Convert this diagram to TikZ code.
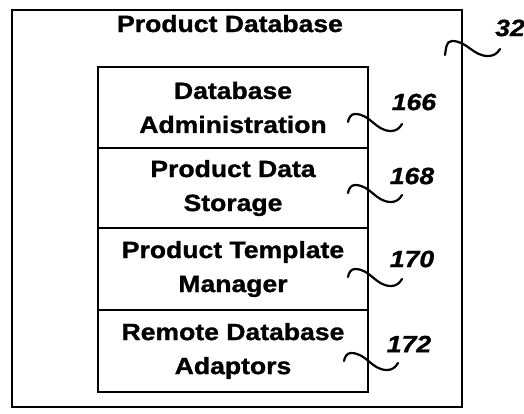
\documentclass[tikz,border=0pt]{standalone}
\usepackage{fontspec}
\setmainfont{Liberation Sans}[FakeStretch=1.13,BoldFeatures={FakeBold=1.2},BoldItalicFeatures={FakeBold=1.2}]
\begin{document}
\begin{tikzpicture}[x=1pt,y=-1pt,
  frame/.style={draw=black,line width=2pt},
  boxtxt/.style={font=\fontsize{23.5}{34}\selectfont\bfseries,align=center},
  partbox/.style={frame,minimum width=270pt,inner sep=0pt,boxtxt},
  reflabel/.style={font=\fontsize{23.5}{28}\selectfont\bfseries\itshape,inner sep=0pt},
  squig/.style={line width=2.2pt,line cap=round}]
\useasboundingbox (0,0) rectangle (524,413);
\node[frame,minimum width=450pt,minimum height=397pt,inner sep=0pt] (outer) at (237,208.5) {};
\node[boxtxt,anchor=base] (title) at (230,32) {Product Database};
\node[partbox,minimum height=81pt] (adm) at (233,107.5) {Database\\Administration};
\node[partbox,minimum height=80pt] (sto) at (233,188) {Product Data\\Storage};
\node[partbox,minimum height=82pt] (tpl) at (233,269) {Product Template\\Manager};
\node[partbox,minimum height=82pt] (rem) at (233,351) {Remote Database\\Adaptors};
\node[reflabel] (l32) at (510,28) {32};
\node[reflabel] (l166) at (414,102) {166};
\node[reflabel] (l168) at (412,176) {168};
\node[reflabel] (l170) at (412,259) {170};
\node[reflabel] (l172) at (409,344) {172};
\coordinate (s32) at (445,55);
\coordinate (s166) at (348,122);
\coordinate (s168) at (348,193);
\coordinate (s170) at (348,277);
\coordinate (s172) at (344,361);
\draw[squig] (s32) to[out=80,in=180] ++(7,-14) to[out=0,in=180] ++(36,15) to[out=0,in=-120] ++(12,-7) coordinate (e32);
\foreach \n in {166,168,170,172}{
  \draw[squig] (s\n) to[out=80,in=180] ++(7,-8) to[out=0,in=180] ++(36,17) to[out=0,in=-120] ++(11,-7) coordinate (e\n);
}
\end{tikzpicture}
\end{document}
